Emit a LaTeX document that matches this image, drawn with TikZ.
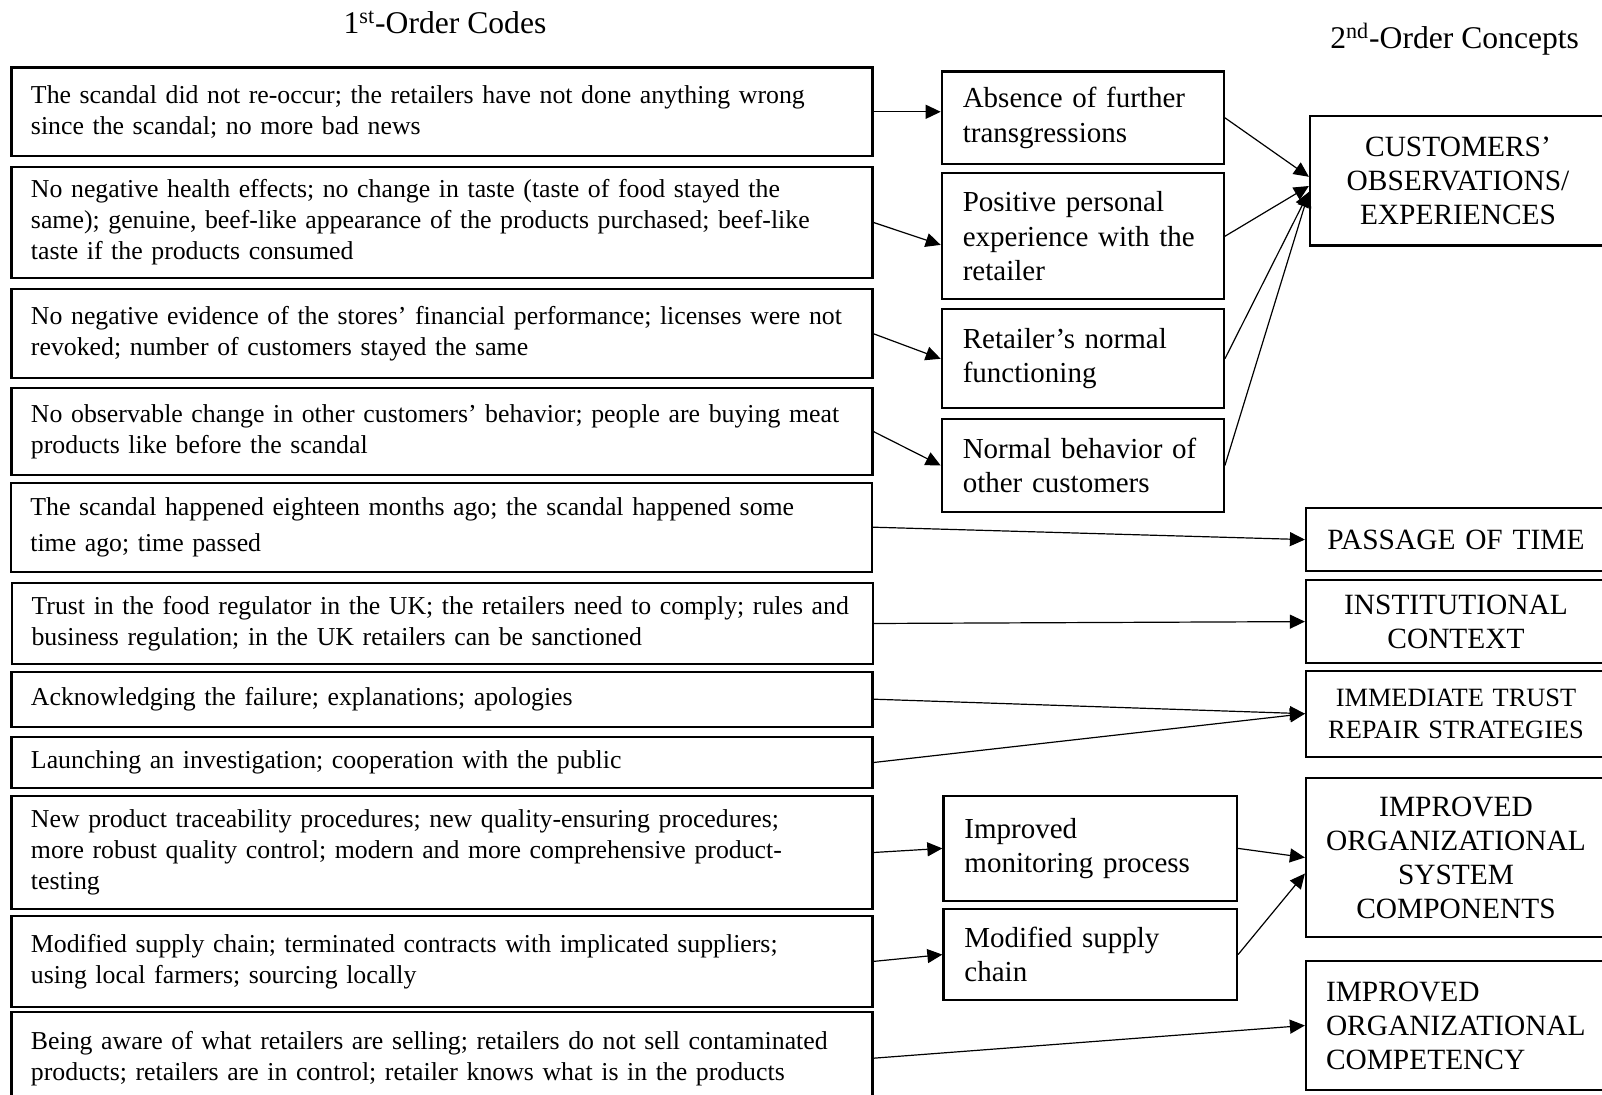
\documentclass[tikz,border=0pt]{standalone}
\usepackage{fontspec}
\setmainfont{Liberation Serif}
\usetikzlibrary{arrows.meta}

\begin{document}
\begin{tikzpicture}[x=1pt,y=-1pt,
    codebox/.style={draw,line width=1.1pt,text width=411pt,inner xsep=9.75pt,inner ysep=0pt,align=left,font={\fontsize{12.9}{15.5}\selectfont\hyphenpenalty=10000}},
    conceptbox/.style={draw,line width=1.1pt,text width=120pt,inner xsep=10.5pt,inner ysep=0pt,align=left,font={\fontsize{14.5}{17.2}\selectfont\hyphenpenalty=10000}},
    themebox/.style={draw,line width=1.1pt,text width=146pt,inner xsep=2pt,inner ysep=0pt,align=center,font={\fontsize{14.7}{17}\selectfont\hyphenpenalty=10000}},
    heading/.style={anchor=base,font={\fontsize{15.8}{19}\selectfont}},
    linkarrow/.style={-{Triangle[length=7.5pt,width=7pt]},line width=0.6pt}]
    \useasboundingbox (0,0) rectangle (801,547.5);
    \fill[white] (0,0) rectangle (801,547.5);
    \clip (0,0) rectangle (801,547.5);

    \node[heading] (firsthead) at (222.5,17) {1\textsuperscript{st}-Order Codes};
    \node[heading] (secondhead) at (727.3,24.5) {2\textsuperscript{nd}-Order Concepts};

    \node[codebox,minimum height=44.2pt] (norecur) at (221,55.9) {The scandal did not re-occur; the retailers have not done anything wrong\\since the scandal; no more bad news};
    \node[codebox,minimum height=55.8pt] (health) at (221,111.25) {No negative health effects; no change in taste (taste of food stayed the\\same); genuine, beef-like appearance of the products purchased; beef-like\\taste if the products consumed};
    \node[codebox,minimum height=44.5pt] (finance) at (221,166.9) {No negative evidence of the stores’ financial performance; licenses were not\\revoked; number of customers stayed the same};
    \node[codebox,minimum height=43.4pt] (others) at (221,215.8) {No observable change in other customers’ behavior; people are buying meat\\products like before the scandal};
    \node[codebox,minimum height=44.5pt,font={\fontsize{12.9}{18}\selectfont\hyphenpenalty=10000}] (time) at (220.7,263.6) {The scandal happened eighteen months ago; the scandal happened some\\time ago; time passed};
    \node[codebox,minimum height=40.8pt] (regulator) at (221.3,311.75) {Trust in the food regulator in the UK; the retailers need to comply; rules and\\business regulation; in the UK retailers can be sanctioned};
    \node[codebox,minimum height=27.5pt] (acknowledge) at (221,349.6) {Acknowledging the failure; explanations; apologies};
    \node[codebox,minimum height=25.8pt] (investigate) at (221,381.25) {Launching an investigation; cooperation with the public};
    \node[codebox,minimum height=56.8pt] (traceability) at (221,426.25) {New product traceability procedures; new quality-ensuring procedures;\\more robust quality control; modern and more comprehensive product-\\testing};
    \node[codebox,minimum height=45.4pt] (supply) at (221,480.7) {Modified supply chain; terminated contracts with implicated suppliers;\\using local farmers; sourcing locally};
    \node[codebox,minimum height=45.9pt] (aware) at (221,529.1) {Being aware of what retailers are selling; retailers do not sell contaminated\\products; retailers are in control; retailer knows what is in the products};

    \node[conceptbox,minimum height=46.2pt] (absence) at (541.4,58.9) {Absence of further\\transgressions};
    \node[conceptbox,minimum height=63pt] (personal) at (541.4,118.15) {Positive personal\\experience with the\\retailer};
    \node[conceptbox,minimum height=49.5pt] (functioning) at (541.4,179.4) {Retailer’s normal\\functioning};
    \node[conceptbox,minimum height=46.2pt] (behavior) at (541.4,232.75) {Normal behavior of\\other customers};
    \node[conceptbox,text width=125.75pt,minimum height=52.4pt] (monitoring) at (545.1,424.2) {Improved\\monitoring process};
    \node[conceptbox,text width=125.75pt,minimum height=45.4pt] (chain) at (545.1,477.3) {Modified supply\\chain};

    \node[themebox,text width=144pt,minimum height=64.8pt] (observations) at (729,90.4) {CUSTOMERS’\\OBSERVATIONS/\\EXPERIENCES};
    \node[themebox,minimum height=31.4pt] (passage) at (728,269.8) {PASSAGE OF TIME};
    \node[themebox,minimum height=41.7pt] (institutional) at (728,310.8) {INSTITUTIONAL\\CONTEXT};
    \node[themebox,minimum height=43pt,font={\fontsize{13.2}{16}\selectfont\hyphenpenalty=10000}] (repair) at (728,356.85) {IMMEDIATE TRUST\\REPAIR STRATEGIES};
    \node[themebox,minimum height=79.2pt] (system) at (728,428.75) {IMPROVED\\ORGANIZATIONAL\\SYSTEM\\COMPONENTS};
    \node[themebox,align=left,text width=130pt,inner xsep=10pt,minimum height=64.5pt] (competency) at (728,512.75) {IMPROVED\\ORGANIZATIONAL\\COMPETENCY};

    \draw[linkarrow] (norecur.east) -- (norecur.east -| absence.west);
    \draw[linkarrow] (health.east) -- ([yshift=-4.3pt]personal.west);
    \draw[linkarrow] (finance.east) -- (functioning.west);
    \draw[linkarrow] (others.east) -- (behavior.west);
    \draw[linkarrow] (absence.east) -- ([yshift=2pt]observations.west);
    \draw[linkarrow] (personal.east) -- ([yshift=-2.6pt]observations.west);
    \draw[linkarrow] (functioning.east) -- ([yshift=-5.6pt]observations.west);
    \draw[linkarrow] (behavior.east) -- ([yshift=-5.6pt]observations.west);
    \draw[linkarrow] (time.east) -- (passage.west);
    \draw[linkarrow] (regulator.east) -- (institutional.west);
    \draw[linkarrow] (acknowledge.east) -- (repair.west);
    \draw[linkarrow] (investigate.east) -- (repair.west);
    \draw[linkarrow] (traceability.east) -- (monitoring.west);
    \draw[linkarrow] (supply.east) -- (chain.west);
    \draw[linkarrow] (monitoring.east) -- (system.west);
    \draw[linkarrow] (chain.east) -- ([yshift=-8pt]system.west);
    \draw[linkarrow] (aware.east) -- (competency.west);
\end{tikzpicture}
\end{document}
